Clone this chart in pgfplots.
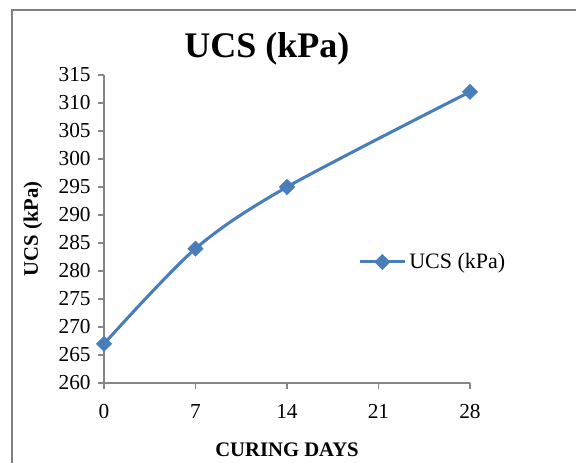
\documentclass[border=0pt]{standalone}
\usepackage{fontspec}
\setmainfont{Liberation Serif}
\usepackage{pgfplots}
\pgfplotsset{compat=1.18}
\definecolor{ucsblue}{RGB}{74,126,187}
\definecolor{axgray}{RGB}{134,134,134}
\definecolor{framegray}{RGB}{128,128,128}
\begin{document}
\begin{tikzpicture}
\useasboundingbox (0pt,0pt) rectangle (432pt,346.5pt);
\begin{scope}
\clip (0pt,0pt) rectangle (432pt,346.5pt);
\draw[color=framegray, line width=1.5pt] (9pt,-15pt) rectangle (450pt,339pt);
\end{scope}
\begin{axis}[
  at={(78pt,59.25pt)}, anchor=south west,
  scale only axis,
  width=274.5pt, height=231pt,
  xmin=0, xmax=28, ymin=260, ymax=315,
  axis lines*=left,
  axis line style={axgray, line width=0.8pt},
  xtick={0,7,14,21,28},
  ytick={260,265,...,315},
  tick align=outside,
  major tick length=4.5pt,
  tick style={axgray, line width=0.8pt},
  /pgf/number format/assume math mode=true,
  tick label style={font=\fontsize{16}{17}\selectfont},
  xticklabel style={yshift=-8pt},
  yticklabel style={xshift=-2pt},
  title={UCS (kPa)},
  title style={font=\fontsize{27}{30}\bfseries, at={(axis description cs:0.445,1.06)}, anchor=center},
  xlabel={CURING DAYS},
  xlabel style={font=\fontsize{15.5}{16}\bfseries, at={(axis description cs:0.5,-0.2175)}, anchor=center},
  ylabel={UCS (kPa)},
  ylabel style={font=\fontsize{15.5}{16}\bfseries, at={(axis description cs:-0.194,0.5)}, anchor=center},
  legend style={draw=none, fill=none, at={(axis description cs:0.899,0.393)}, anchor=center,
    font=\fontsize{16.5}{17}\selectfont},
  legend cell align=left,
  legend image code/.code={
    \draw[#1, mark repeat=2, mark phase=2] plot coordinates {(0cm,0cm) (0.6cm,0cm) (1.2cm,0cm)};
  },
]
\addplot[color=ucsblue, line width=2.3pt, smooth, tension=0.5, mark=square*, mark size=4pt,
  mark options={rotate=45, solid, fill=ucsblue, line width=0.5pt}]
  coordinates {(0,267) (7,284) (14,295) (28,312)};
\addlegendentry{UCS (kPa)}
\end{axis}
\end{tikzpicture}
\end{document}
